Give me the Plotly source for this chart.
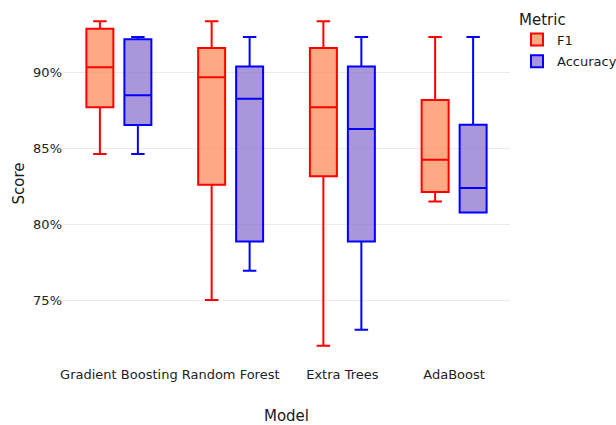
import plotly.graph_objects as go

# Cross-validation score summaries per model (fractions)
models = ["Gradient Boosting", "Random Forest", "Extra Trees", "AdaBoost"]

f1_lower = [0.8463, 0.7502, 0.7202, 0.8151]
f1_q1 = [0.8770, 0.8261, 0.8316, 0.8213]
f1_median = [0.9033, 0.8967, 0.8770, 0.8426]
f1_q3 = [0.9287, 0.9160, 0.9160, 0.8818]
f1_upper = [0.9336, 0.9336, 0.9336, 0.9232]

acc_lower = [0.8463, 0.7695, 0.7307, 0.8079]
acc_q1 = [0.8653, 0.7888, 0.7888, 0.8079]
acc_median = [0.8849, 0.8827, 0.8627, 0.8239]
acc_q3 = [0.9217, 0.9039, 0.9039, 0.8655]
acc_upper = [0.9232, 0.9232, 0.9232, 0.9232]

fig = go.Figure()

fig.add_trace(go.Box(
    name="F1",
    legendgroup="f1",
    x=models,
    lowerfence=f1_lower, q1=f1_q1, median=f1_median, q3=f1_q3, upperfence=f1_upper,
    fillcolor="rgba(252,140,90,0.75)",
    line=dict(color="#ff0000", width=2),
    whiskerwidth=0.5,
    boxpoints=False,
))
fig.add_trace(go.Box(
    name="Accuracy",
    legendgroup="acc",
    x=models,
    lowerfence=acc_lower, q1=acc_q1, median=acc_median, q3=acc_q3, upperfence=acc_upper,
    fillcolor="rgba(130,100,200,0.68)",
    line=dict(color="#0000ff", width=2),
    whiskerwidth=0.5,
    boxpoints=False,
))

# plot region spans x 63..510 px of a 616 px wide page
W, L = 616, 63
plot_w = W - L
fig.update_layout(
    width=W, height=425,
    boxmode="group",
    boxgap=0.32,
    boxgroupgap=0.29,
    paper_bgcolor="white",
    plot_bgcolor="white",
    font=dict(family="DejaVu Sans", size=13, color="#1a1a1a"),
    margin=dict(l=L, r=0, t=5, b=63, autoexpand=False),
    legend=dict(
        title=dict(text="Metric", font=dict(size=15)),
        font=dict(size=13),
        x=(517 - L) / plot_w, y=1.0, xanchor="left", yanchor="top",
        tracegroupgap=2,
    ),
    xaxis=dict(
        domain=[0, (510 - L) / plot_w],
        title=dict(text="Model", font=dict(size=15), standoff=40),
        showgrid=False, zeroline=False, showline=False,
        ticks="", tickfont=dict(size=13, color="#222222"),
        ticklabelstandoff=3,
        automargin=True,
    ),
    yaxis=dict(
        title=dict(text="Score", font=dict(size=15), standoff=4),
        range=[0.7095, 0.9443],
        tickvals=[0.75, 0.80, 0.85, 0.90],
        tickformat=".0%",
        showgrid=True, gridcolor="#ebebeb", gridwidth=1,
        zeroline=False, showline=False, ticks="",
        tickfont=dict(size=13, color="#222222"),
        automargin=True,
    ),
)

fig.write_html("out.html")
